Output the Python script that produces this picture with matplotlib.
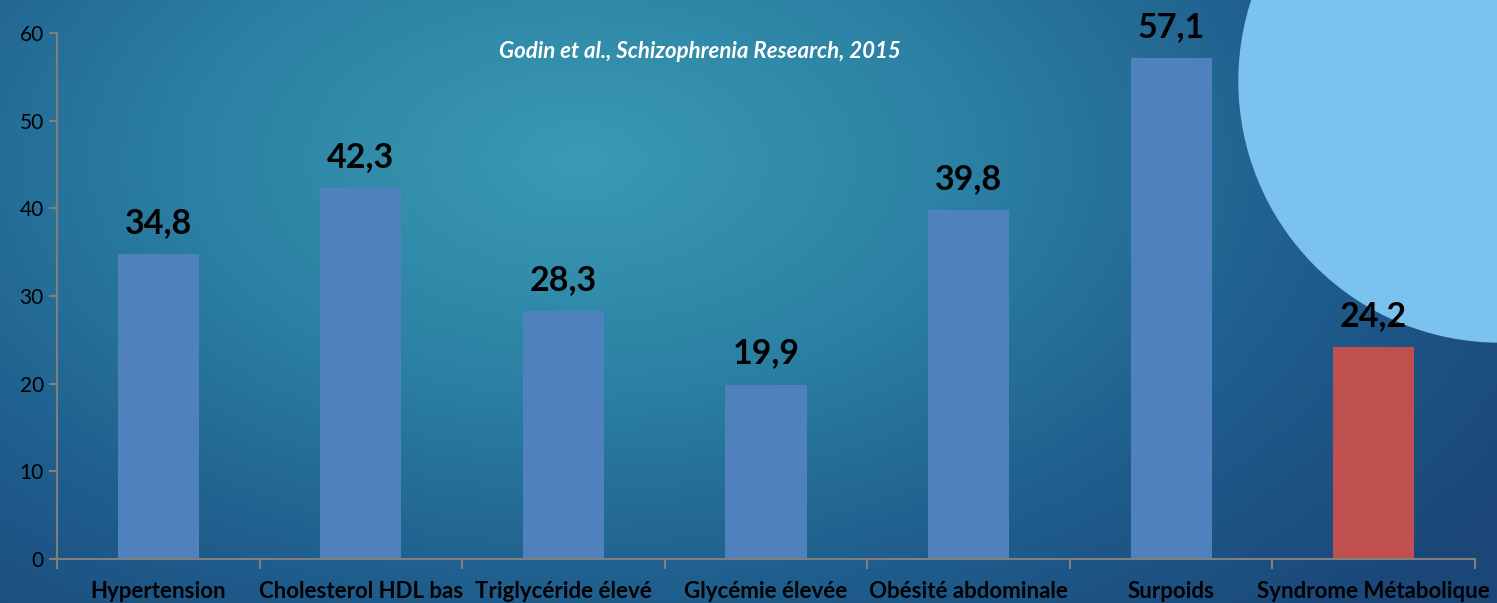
import matplotlib
matplotlib.use("Agg")
import matplotlib.pyplot as plt
import numpy as np
from matplotlib.patches import Circle
from matplotlib.colors import LinearSegmentedColormap

categories = ["Hypertension", "Cholesterol HDL bas", "Triglycéride élevé",
              "Glycémie élevée", "Obésité abdominale", "Surpoids",
              "Syndrome Métabolique"]
values = [34.8, 42.3, 28.3, 19.9, 39.8, 57.1, 24.2]
value_labels = ["34,8", "42,3", "28,3", "19,9", "39,8", "57,1", "24,2"]
bar_colors = ["#4F81BD"] * 6 + ["#C0504D"]
y_ticks = [0, 10, 20, 30, 40, 50, 60]
source = "Godin et al., Schizophrenia Research, 2015"

plt.rcParams["font.family"] = ["Lato", "DejaVu Sans"]

W, H = 1497, 603
fig = plt.figure(figsize=(W / 100, H / 100), dpi=100)

# background: radial gradient, lighter toward the upper centre
bg = fig.add_axes([0, 0, 1, 1], zorder=0)
yy, xx = np.mgrid[0:H, 0:W]
d = np.sqrt(((xx - 580) / 1100.0) ** 2 + ((yy - 160) / 650.0) ** 2)
d = np.clip(d, 0, 1)
cmap = LinearSegmentedColormap.from_list("bg", ["#3A9AB4", "#2C82A4", "#1F5E8D", "#1A4678"])
bg.imshow(d, cmap=cmap, extent=(0, W, H, 0), aspect="auto", vmin=0, vmax=1)
bg.add_patch(Circle((1500, 81), 261, color="#7BC3EE", zorder=2))
bg.set_xlim(0, W)
bg.set_ylim(H, 0)
bg.axis("off")

ax = fig.add_axes([57 / W, (H - 559) / H, (1475 - 57) / W, (559 - 33) / H], zorder=1)
ax.patch.set_alpha(0)

x = np.arange(len(categories))
ax.bar(x, values, width=0.4, color=bar_colors, zorder=2)
for xi, v, lab in zip(x, values, value_labels):
    ax.annotate(lab, (xi, v), xytext=(0, 11), textcoords="offset points",
                ha="center", va="bottom", fontsize=24.5, fontweight="bold",
                color="black")

ax.set_xlim(-0.5, len(categories) - 0.5)
ax.set_ylim(0, 60)
ax.set_yticks(y_ticks)
ax.tick_params(axis="y", labelsize=15, colors="#7F7F7F", labelcolor="black",
               length=6, width=1.5, direction="out")
ax.set_xticks(np.arange(-0.5, len(categories)))
ax.set_xticklabels([])
ax.set_xticks(x, minor=True)
ax.set_xticklabels(categories, minor=True, fontsize=16, fontweight="bold")
ax.tick_params(axis="x", which="major", colors="#7F7F7F", length=7, width=1.5)
ax.tick_params(axis="x", which="minor", length=0, pad=16, labelcolor="black")

for s in ["top", "right"]:
    ax.spines[s].set_visible(False)
for s in ["left", "bottom"]:
    ax.spines[s].set_color("#7F7F7F")
    ax.spines[s].set_linewidth(1.5)

fig.text(700 / W, 1 - 51 / H, source, ha="center", va="center", color="white",
         fontsize=16, fontweight="bold", fontstyle="italic")

fig.savefig("out.png", dpi=100)
